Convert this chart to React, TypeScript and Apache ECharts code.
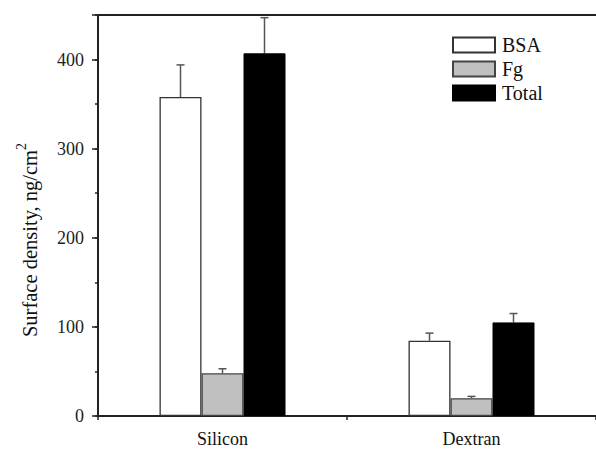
import React, { useEffect, useRef } from "react";
import * as echarts from "echarts";

const categories = ["Silicon", "Dextran"];
const bsaValues = [358, 84.5];
const bsaErrors = [36, 8.5];
const fgValues = [48, 20];
const fgErrors = [5, 2];
const totalValues = [407, 105];
const totalErrors = [40, 10];
const seriesNames = ["BSA", "Fg", "Total"];
const yTicks = { min: 0, max: 450, major: 100, minor: 50 };

const FONT = "'Liberation Serif', 'Times New Roman', serif";
const BAR_W = 42;

export default function App() {
  const ref = useRef<HTMLDivElement>(null);

  useEffect(() => {
    if (!ref.current) return;
    const chart = echarts.init(ref.current, null, { renderer: "svg" });

    const errSeries = (name: string, vals: number[], errs: number[], offset: number) => ({
      type: "custom",
      name: name + " error",
      xAxisIndex: 0,
      yAxisIndex: 0,
      z: 1,
      silent: true,
      data: vals.map((v, i) => [i, v, v + errs[i]]),
      encode: { x: 0, y: [1, 2] },
      renderItem: (params: any, api: any) => {
        const base = api.coord([api.value(0), api.value(1)]);
        const top = api.coord([api.value(0), api.value(2)]);
        const x = base[0] + offset;
        const style = { stroke: "#555", lineWidth: 1.5 };
        return {
          type: "group",
          children: [
            { type: "line", shape: { x1: x, y1: base[1], x2: x, y2: top[1] }, style },
            { type: "line", shape: { x1: x - 4, y1: top[1], x2: x + 4, y2: top[1] }, style },
          ],
        };
      },
    });

    const barCommon = {
      type: "bar",
      xAxisIndex: 0,
      yAxisIndex: 0,
      barWidth: BAR_W,
      barGap: "0%",
      z: 2,
    };

    chart.setOption({
      animation: false,
      backgroundColor: "#fff",
      textStyle: { fontFamily: FONT },
      grid: { left: 98, right: 0, top: 15, bottom: 35, containLabel: false },
      legend: {
        data: seriesNames,
        orient: "vertical",
        left: 452,
        top: 35,
        padding: 0,
        itemWidth: 42,
        itemHeight: 15,
        itemGap: 4,
        icon: "rect",
        textStyle: { fontSize: 20, fontFamily: FONT, color: "#111", padding: [0, 0, 0, 2] },
      },
      xAxis: [
        {
          type: "category",
          data: categories,
          position: "bottom",
          axisLine: { lineStyle: { color: "#222", width: 2 } },
          axisTick: { alignWithLabel: true, length: 7, lineStyle: { color: "#222", width: 1.5 } },
          axisLabel: { fontSize: 18, fontFamily: FONT, color: "#111", margin: 14 },
          splitLine: { show: false },
        },
        {
          type: "category",
          data: categories,
          position: "bottom",
          axisLine: { show: false },
          axisTick: { show: true, length: 4, lineStyle: { color: "#222", width: 1.5 } },
          axisLabel: { show: false },
          splitLine: { show: false },
        },
        {
          type: "category",
          data: categories,
          position: "top",
          axisLine: { lineStyle: { color: "#222", width: 2 } },
          axisTick: { show: false },
          axisLabel: { show: false },
          splitLine: { show: false },
        },
      ],
      yAxis: [
        {
          type: "value",
          min: yTicks.min,
          max: yTicks.max,
          interval: yTicks.major,
          position: "left",
          axisLine: { show: true, lineStyle: { color: "#222", width: 2 } },
          axisTick: { show: true, length: 6, lineStyle: { color: "#222", width: 1.5 } },
          axisLabel: {
            fontSize: 18,
            fontFamily: FONT,
            color: "#222",
            margin: 14,
            formatter: (v: number) => (v % yTicks.major === 0 ? String(v) : ""),
          },
          splitLine: { show: false },
        },
        {
          type: "value",
          min: yTicks.min,
          max: yTicks.max,
          interval: yTicks.minor,
          position: "left",
          axisLine: { show: false },
          axisTick: { show: true, length: 3, lineStyle: { color: "#222", width: 1.5 } },
          axisLabel: { show: false },
          splitLine: { show: false },
        },
      ],
      graphic: [
        {
          type: "text",
          x: 27,
          y: 240,
          rotation: Math.PI / 2,
          style: {
            text: "{a|Surface density, ng/cm}{b|2}",
            textAlign: "center",
            textVerticalAlign: "middle",
            fill: "#111",
            rich: {
              a: { fontSize: 20.5, fontFamily: FONT, fill: "#111", lineHeight: 26, verticalAlign: "bottom" },
              b: { fontSize: 14, fontFamily: FONT, fill: "#111", lineHeight: 14, verticalAlign: "top" },
            },
          },
        },
      ],
      series: [
        {
          ...barCommon,
          name: seriesNames[0],
          data: bsaValues,
          itemStyle: { color: "#ffffff", borderColor: "#333", borderWidth: 1.3 },
        },
        {
          ...barCommon,
          name: seriesNames[1],
          data: fgValues,
          itemStyle: { color: "#c0c0c0", borderColor: "#444", borderWidth: 1.3 },
        },
        {
          ...barCommon,
          name: seriesNames[2],
          data: totalValues,
          itemStyle: { color: "#000000", borderColor: "#000", borderWidth: 1 },
        },
        errSeries("BSA", bsaValues, bsaErrors, -BAR_W),
        errSeries("Fg", fgValues, fgErrors, 0),
        errSeries("Total", totalValues, totalErrors, BAR_W),
      ],
    });

    return () => chart.dispose();
  }, []);

  return (
    <div
      ref={ref}
      style={{ position: "fixed", left: 0, top: 0, width: 596, height: 451, background: "#fff" }}
    />
  );
}
